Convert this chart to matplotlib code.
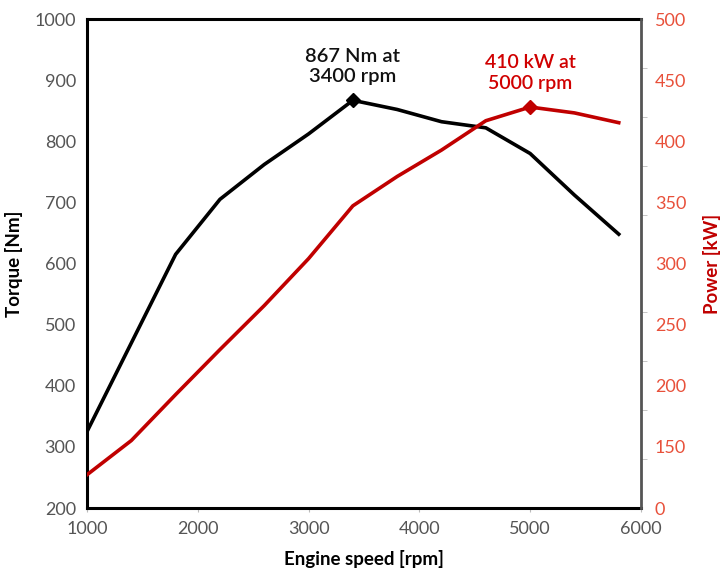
import matplotlib
matplotlib.use("Agg")
import matplotlib.pyplot as plt
import numpy as np

rpm = [1000, 1400, 1800, 2200, 2600, 3000, 3400, 3800, 4200, 4600, 5000, 5400, 5800]
torque = [325, 470, 615, 705, 762, 812, 867, 852, 832, 822, 780, 712, 648]
power = [34, 69, 116, 162, 207, 255, 309, 339, 366, 396, 410, 404, 394]

x_ticks = [1000, 2000, 3000, 4000, 5000, 6000]
torque_ticks = [200, 300, 400, 500, 600, 700, 800, 900, 1000]
power_tick_labels = ["0", "150", "200", "250", "300", "350", "400", "450", "500"]
power_minor_ticks = [0, 50, 100, 150, 200, 250, 300, 350, 400, 450, 500]

torque_peak = (3400, 867)
power_peak = (5000, 410)
torque_note = "867 Nm at\n3400 rpm"
power_note = "410 kW at\n5000 rpm"

plt.rcParams['font.family'] = ['Lato', 'DejaVu Sans']

RED = "#c00000"
TICK_RED = "#e8503a"
GRAY = "#555555"

fig = plt.figure(figsize=(7.25, 5.73), dpi=100)
ax = fig.add_axes([0.12, 0.1134, 0.764, 0.8534])
ax2 = ax.twinx()

ax.plot(rpm, torque, color="black", lw=2.6, solid_joinstyle="round", zorder=3)
ax.plot([torque_peak[0]], [torque_peak[1]], marker="D", color="black", ms=7, zorder=4)
ax2.plot(rpm, power, color=RED, lw=2.6, solid_joinstyle="round", zorder=3)
ax2.plot([power_peak[0]], [power_peak[1]], marker="D", color=RED, ms=7, zorder=4)

ax.set_xlim(1000, 6000)
ax.set_ylim(200, 1000)
ax2.set_ylim(0, 500)

ax.set_xticks(x_ticks)
ax.set_yticks(torque_ticks)
ax.tick_params(axis="y", length=0, labelsize=13, labelcolor=GRAY, pad=8)
ax.tick_params(axis="x", length=3, color="#bbbbbb", labelsize=13, labelcolor=GRAY, pad=6)

ax2.set_yticks(np.linspace(0, 500, len(power_tick_labels)))
ax2.set_yticklabels(power_tick_labels)
ax2.set_yticks(power_minor_ticks, minor=True)
ax2.tick_params(axis="y", which="major", length=0, labelsize=13, labelcolor=TICK_RED, pad=10)
ax2.tick_params(axis="y", which="minor", length=4, color="#bbbbbb")

for s in ["left", "bottom", "top"]:
    ax.spines[s].set_linewidth(2.2)
    ax.spines[s].set_color("black")
    ax2.spines[s].set_visible(False)
ax.spines["right"].set_visible(False)
ax2.spines["right"].set_linewidth(2.0)
ax2.spines["right"].set_color("#555555")

ax.set_ylabel("Torque [Nm]", fontsize=13.5, fontweight="bold", labelpad=8)
ax.set_xlabel("Engine speed [rpm]", fontsize=13.5, fontweight="bold", labelpad=10)
ax2.set_ylabel("Power [kW]", fontsize=13.5, fontweight="bold", color=RED, labelpad=12)

ax.annotate(torque_note, xy=torque_peak, xytext=(0, 11), textcoords="offset points",
            ha="center", va="bottom", fontsize=14.5, color="#111111", fontweight="semibold",
            linespacing=1.25)
ax2.annotate(power_note, xy=power_peak, xytext=(0, 11), textcoords="offset points",
             ha="center", va="bottom", fontsize=14, color="#d00000", fontweight="semibold",
             linespacing=1.25)

fig.savefig("out.png", dpi=100)
